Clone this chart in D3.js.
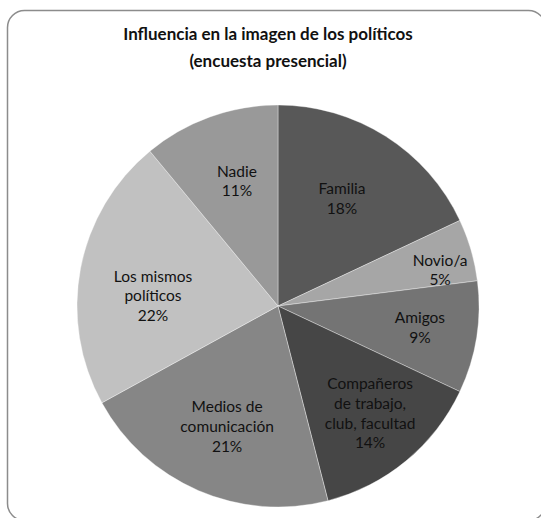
<!DOCTYPE html>
<html>
<head>
<meta charset="utf-8">
<script src="https://cdn.jsdelivr.net/npm/d3@7/dist/d3.min.js"></script>
<style>
  html, body { margin: 0; padding: 0; background: #fff; }
  svg { display: block; }
  text { font-family: Lato, "Open Sans", sans-serif; fill: #111; }
</style>
</head>
<body>
<svg id="chart" width="541" height="518"></svg>
<script>
// Survey answers: who influences the image people have of politicians
const categories = ["Familia", "Novio/a", "Amigos", "Compañeros de trabajo, club, facultad",
                    "Medios de comunicación", "Los mismos políticos", "Nadie"];
const values = [18, 5, 9, 14, 21, 22, 11];
const labelLines = [
  ["Familia"],
  ["Novio/a"],
  ["Amigos"],
  ["Compañeros", "de trabajo,", "club, facultad"],
  ["Medios de", "comunicación"],
  ["Los mismos", "políticos"],
  ["Nadie"]
];
const sliceColors = ["#585858", "#a6a6a6", "#747474", "#464646", "#868686", "#c1c1c1", "#999999"];
const titleLines = ["Influencia en la imagen de los políticos", "(encuesta presencial)"];

// Label placement inside each slice: fraction of radius and angular nudge (degrees)
const labelPlacement = {
  "Familia": [0.622, -1.6],
  "Novio/a": [0.826, 3.7],
  "Amigos": [0.714, -0.4],
  "Compañeros de trabajo, club, facultad": [0.704, -1.0],
  "Medios de comunicación": [0.651, -0.5],
  "Los mismos políticos": [0.624, -6.2],
  "Nadie": [0.655, 1.6]
};

const svg = d3.select("#chart");
const cx = 278, cy = 306, radius = 201;

// chart area frame
svg.append("rect")
  .attr("x", 7.5).attr("y", 10.5)
  .attr("width", 538).attr("height", 510)
  .attr("rx", 17).attr("ry", 17)
  .attr("fill", "#fff")
  .attr("stroke", "#8c8c8c")
  .attr("stroke-width", 1.5);

// title
const title = svg.append("text")
  .attr("text-anchor", "middle")
  .attr("font-weight", "bold")
  .attr("font-size", 17);
titleLines.forEach((t, i) => {
  title.append("tspan").attr("x", 268).attr("y", 40 + i * 26.5).text(t);
});

const data = categories.map((c, i) => ({ category: c, value: values[i], lines: labelLines[i], color: sliceColors[i] }));

const pie = d3.pie().value(d => d.value).sort(null);
const arc = d3.arc().innerRadius(0).outerRadius(radius);
const arcs = pie(data);

const g = svg.append("g").attr("transform", `translate(${cx},${cy})`);

g.selectAll("path.slice")
  .data(arcs)
  .join("path")
  .attr("class", "slice")
  .attr("d", arc)
  .attr("fill", d => d.data.color)
  .attr("stroke", "#ffffff")
  .attr("stroke-opacity", 0.45)
  .attr("stroke-width", 0.8);

const total = d3.sum(values);
const lineH = 19.7;

g.selectAll("text.lbl")
  .data(arcs)
  .join("text")
  .attr("class", "lbl")
  .attr("text-anchor", "middle")
  .attr("font-size", 15.5)
  .each(function (d) {
    const [frac, nudge] = labelPlacement[d.data.category];
    const a = (d.startAngle + d.endAngle) / 2 + nudge * Math.PI / 180;
    const r = radius * frac;
    const x = r * Math.sin(a);
    const y = -r * Math.cos(a);
    const lines = d.data.lines.concat([Math.round(d.data.value / total * 100) + "%"]);
    const top = y - (lines.length - 1) * lineH / 2;
    const t = d3.select(this);
    lines.forEach((ln, i) => {
      t.append("tspan").attr("x", x).attr("y", top + i * lineH).attr("dy", "0.35em").text(ln);
    });
  });
</script>
</body>
</html>
